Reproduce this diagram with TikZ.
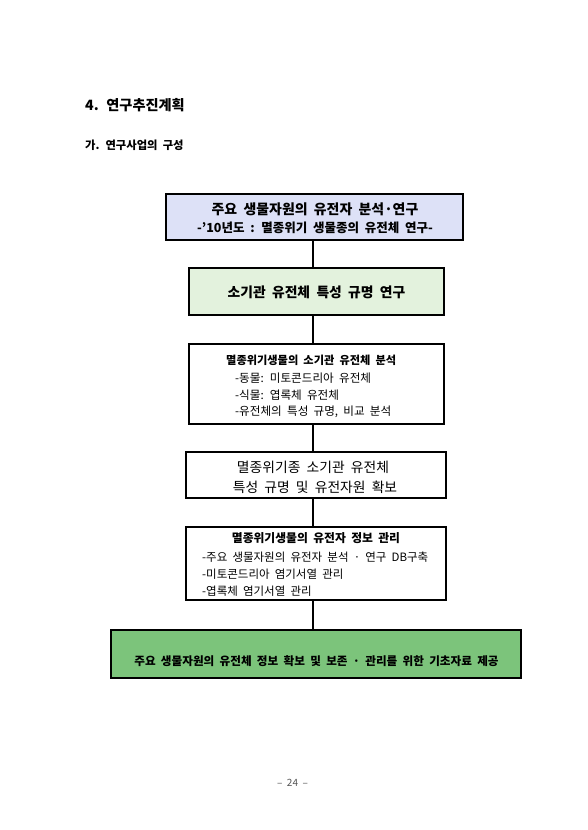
\documentclass[tikz,border=0pt]{standalone}
\usepackage{fontspec}
\setmainfont{Noto Sans CJK KR}[WordSpace=2]
\definecolor{lav}{HTML}{DDE1F7}
\definecolor{lgreen}{HTML}{E3F2DD}
\definecolor{dgreen}{HTML}{7CC47B}
\definecolor{pgray}{HTML}{555555}
\begin{document}
\begin{tikzpicture}[x=1pt,y=-1pt,
  box/.style={draw=black, line width=1.3pt, inner sep=0pt},
  txt/.style={inner sep=0pt, anchor=center},
  ltxt/.style={inner sep=0pt, anchor=west},
  conn/.style={draw=black, line width=1.1pt}]
\fill[white] (0,0) rectangle (587,830);
\useasboundingbox (0,0) rectangle (587,830);
% headings
\node[ltxt] (h1) at (85,105) {\fontsize{14.2}{16}\selectfont\bfseries 4. 연구추진계획};
\node[ltxt] (h2) at (85,145) {\fontsize{11.3}{13}\selectfont\bfseries 가. 연구사업의 구성};
% boxes
\node[box, fill=lav, minimum width=297pt, minimum height=46pt] (b1) at (314.5,217) {};
\node[box, fill=lgreen, minimum width=255pt, minimum height=47pt] (b2) at (316.5,291.5) {};
\node[box, fill=white, minimum width=255pt, minimum height=80pt] (b3) at (316.5,384) {};
\node[box, fill=white, minimum width=260pt, minimum height=46pt] (b4) at (316,475) {};
\node[box, fill=white, minimum width=260pt, minimum height=73pt] (b5) at (316,563.5) {};
\node[box, fill=dgreen, minimum width=410pt, minimum height=48pt] (b6) at (316,654) {};
% connectors
\coordinate (lx) at (313,0);
\draw[conn] (b1.south -| lx) -- (b2.north -| lx);
\draw[conn] (b2.south -| lx) -- (b3.north -| lx);
\draw[conn] (b3.south -| lx) -- (b4.north -| lx);
\draw[conn] (b4.south -| lx) -- (b5.north -| lx);
\draw[conn] (b5.south -| lx) -- (b6.north -| lx);
% box 1 text
\node[txt] (t1a) at (315,209) {\fontsize{13.9}{15}\selectfont\bfseries 주요 생물자원의 유전자 분석·연구};
\node[txt] (t1b) at (315,228) {\fontsize{12.5}{14}\selectfont\bfseries -'10년도 : 멸종위기 생물종의 유전체 연구-};
% box 2 text
\node[txt] (t2) at (316.5,292) {\fontsize{13.8}{15}\selectfont\bfseries 소기관 유전체 특성 규명 연구};
% box 3 text
\node[ltxt] (t3a) at (226,360) {\fontsize{11.2}{12}\selectfont\bfseries 멸종위기생물의 소기관 유전체 분석};
\node[ltxt] (t3b) at (235,378) {\fontsize{11.6}{13}\selectfont -동물: 미토콘드리아 유전체};
\node[ltxt] (t3c) at (235,395) {\fontsize{11.6}{13}\selectfont -식물: 엽록체 유전체};
\node[ltxt] (t3d) at (235,412) {\fontsize{11.6}{13}\selectfont -유전체의 특성 규명, 비교 분석};
% box 4 text
\node[txt] (t4a) at (313,467) {\fontsize{13.8}{15}\selectfont 멸종위기종 소기관 유전체};
\node[txt] (t4b) at (315,487) {\fontsize{13.8}{15}\selectfont 특성 규명 및 유전자원 확보};
% box 5 text
\node[txt] (t5a) at (316,538) {\fontsize{11.8}{13}\selectfont\bfseries 멸종위기생물의 유전자 정보 관리};
\node[ltxt] (t5b) at (202,557) {\fontsize{11.5}{13}\selectfont -주요 생물자원의 유전자 분석 · 연구 DB구축};
\node[ltxt] (t5c) at (202,574) {\fontsize{11.5}{13}\selectfont -미토콘드리아 염기서열 관리};
\node[ltxt] (t5d) at (202,591) {\fontsize{11.5}{13}\selectfont -엽록체 염기서열 관리};
% box 6 text
\node[txt] (t6) at (316.5,661) {\fontsize{11.6}{13}\selectfont\bfseries 주요 생물자원의 유전체 정보 확보 및 보존 · 관리를 위한 기초자료 제공};
% page number
\node[txt, text=pgray] (pg) at (292.5,783) {\fontsize{10}{12}\selectfont – 24 –};
\end{tikzpicture}
\end{document}
